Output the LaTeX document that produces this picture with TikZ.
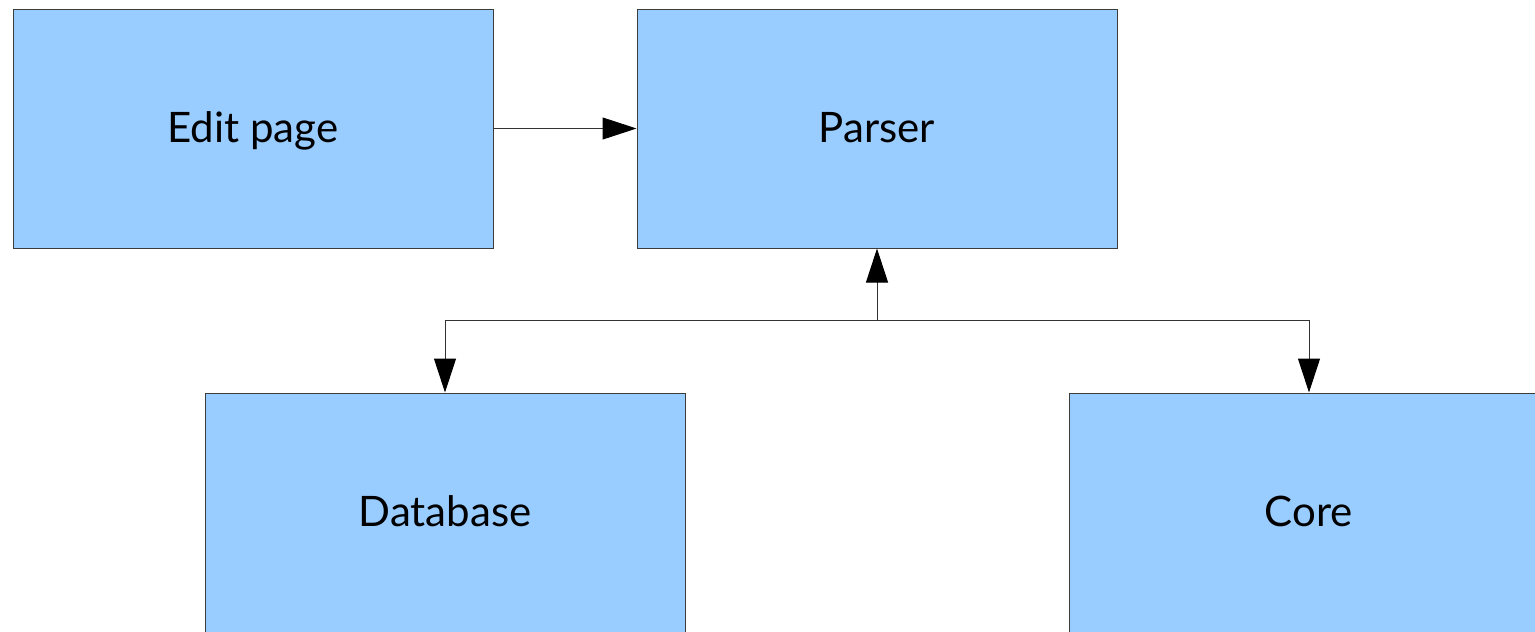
\documentclass[tikz,border=0pt]{standalone}
\usepackage{fontspec}
\setmainfont{Lato}
\usetikzlibrary{arrows.meta}
\definecolor{boxfill}{HTML}{99CCFF}
\definecolor{boxline}{HTML}{3C3C3C}
\tikzset{
  blk/.style={draw=boxline, fill=boxfill, line width=1pt, minimum width=480pt, minimum height=239pt, inner sep=0pt, text height=27pt, text depth=0pt, font=\fontsize{42}{46}\selectfont},
  conn/.style={line width=1pt, draw=black!80},
  tip/.style={-{Triangle[length=34pt,width=22pt,color=black,fill=black]}}
}
\begin{document}
\begin{tikzpicture}[x=1pt,y=-1pt]
\useasboundingbox (0,0) rectangle (1535,632);
\node[blk] (edit) at (253,128.5) {Edit page};
\node[blk] (parser) at (877,128.5) {Parser};
\node[blk] (db) at (445,512.5) {Database};
\node[blk] (core) at (1309,512.5) {Core};
\coordinate (j) at (877,320.5);
\draw[conn,tip] (edit.east) -- (parser.west);
\draw[conn,tip] (j) -- (parser.south);
\draw[conn,tip] (j) -| (db.north);
\draw[conn,tip] (j) -| (core.north);
\end{tikzpicture}
\end{document}
